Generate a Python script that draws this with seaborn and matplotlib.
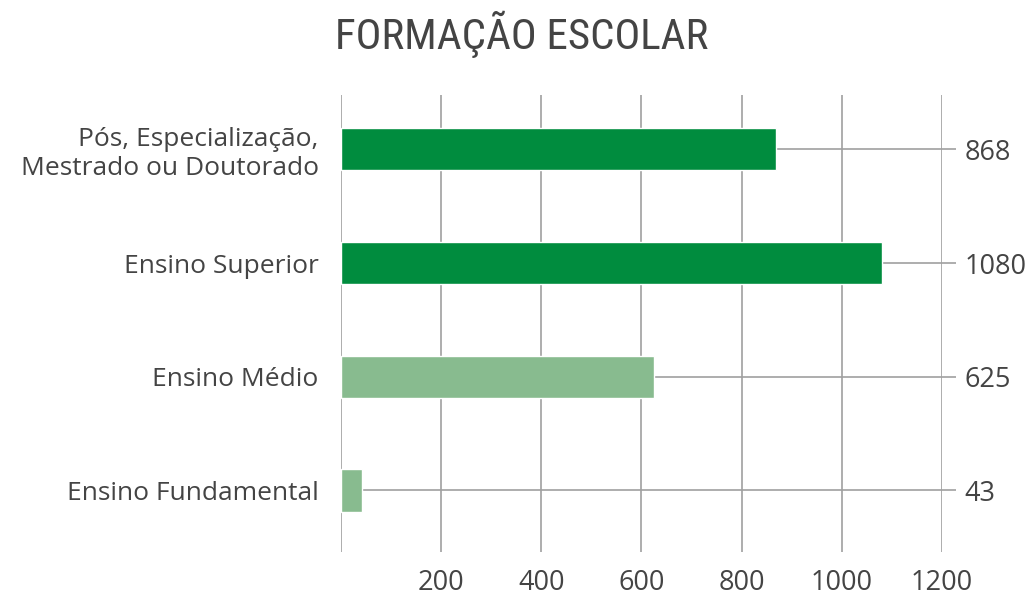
import matplotlib
matplotlib.use("Agg")
import matplotlib.pyplot as plt
import seaborn as sns
import pandas as pd

categorias = ["Pós, Especialização,\nMestrado ou Doutorado", "Ensino Superior",
              "Ensino Médio", "Ensino Fundamental"]
valores = [868, 1080, 625, 43]
cores = ["#008C3E", "#008C3E", "#88BB8F", "#88BB8F"]
x_ticks = [200, 400, 600, 800, 1000, 1200]

df = pd.DataFrame({"categoria": categorias, "valor": valores})

sns.set_theme(style="white")
plt.rcParams["font.family"] = ["Open Sans", "DejaVu Sans"]

fig = plt.figure(figsize=(10.33, 5.96), dpi=100)
ax = fig.add_axes([0.330, 0.074, 0.582, 0.767])

sns.barplot(data=df, x="valor", y="categoria", hue="categoria", palette=cores,
            saturation=1, legend=False, width=0.37, ax=ax, zorder=3)

ax.set_xlim(0, 1200)
ax.set_ylim(3.54, -0.48)
ax.set_xticks(x_ticks)
ax.set_xticklabels([str(t) for t in x_ticks], fontsize=19.5, color="#444444")
ax.tick_params(axis="x", length=0, pad=12)
ax.tick_params(axis="y", length=0, pad=16, labelsize=19, labelcolor="#444444")
for lab in ax.get_yticklabels():
    lab.set_horizontalalignment("right")
    lab.set_multialignment("right")
ax.set_xlabel("")
ax.set_ylabel("")
ax.grid(axis="x", color="#A0A0A0", linewidth=1.2, zorder=0)
ax.grid(axis="y", color="#A0A0A0", linewidth=1.2, zorder=0)
ax.axvline(0, color="#A0A0A0", linewidth=1.2, zorder=0)
ax.set_axisbelow(True)
for s in ax.spines.values():
    s.set_visible(False)

ax2 = ax.twinx()
ax2.set_ylim(ax.get_ylim())
ax2.set_yticks(range(len(valores)))
ax2.set_yticklabels([str(v) for v in valores], fontsize=19.5, color="#444444")
ax2.tick_params(axis="y", length=10, width=1.2, color="#A0A0A0", pad=6)
for s in ax2.spines.values():
    s.set_visible(False)

fig.text(0.505, 0.942, "FORMAÇÃO ESCOLAR", ha="center", va="center",
         fontsize=31, color="#444444",
         family=["Roboto Condensed", "DejaVu Sans"])

fig.savefig("out.png", dpi=100)
